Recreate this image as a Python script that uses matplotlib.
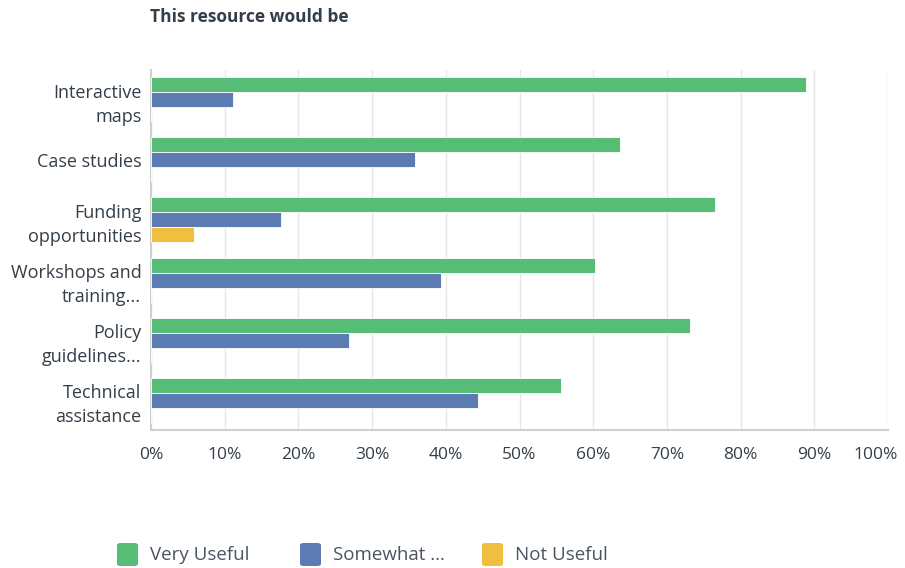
import matplotlib
matplotlib.use("Agg")
import matplotlib.pyplot as plt
from matplotlib.patches import FancyBboxPatch
from matplotlib.ticker import FuncFormatter
from matplotlib.transforms import ScaledTranslation
import numpy as np

plt.rcParams['font.family'] = ['Open Sans', 'DejaVu Sans']

categories = ["Interactive\nmaps", "Case studies", "Funding\nopportunities",
              "Workshops and\ntraining...", "Policy\nguidelines...", "Technical\nassistance"]
series_names = ["Very Useful", "Somewhat ...", "Not Useful"]
very_useful = [88.9, 63.6, 76.5, 60.3, 73.1, 55.6]
somewhat = [11.1, 35.8, 17.6, 39.3, 26.9, 44.4]
not_useful = [0, 0, 5.9, 0, 0, 0]
colors = ["#57bd76", "#5b7bb2", "#f0bf40"]
xticks = [0, 10, 20, 30, 40, 50, 60, 70, 80, 90, 100]

W, H = 905, 568
fig = plt.figure(figsize=(W / 100, H / 100), dpi=100)
ax = fig.add_axes([151 / W, 1 - 430 / H, (888 - 151) / W, 360 / H])

y = np.arange(len(categories))
bh = 0.25
for i, (vals, c) in enumerate(zip([very_useful, somewhat, not_useful], colors)):
    ax.barh(y + (i - 1) * bh, vals, height=bh, color=c, edgecolor='white',
            linewidth=0.6, zorder=3, label=series_names[i])

ax.set_ylim(len(categories) - 0.5, -0.5)
ax.set_xlim(0, 100)
ax.set_yticks(y)
ax.set_yticklabels(categories, fontsize=13, color='#333e48', linespacing=1.45)
ax.set_xticks(xticks)
ax.xaxis.set_major_formatter(FuncFormatter(lambda v, p: f"{int(v)}%"))
ax.tick_params(axis='x', labelsize=12.5, colors='#333e48', length=0, pad=12)
ax.tick_params(axis='y', length=0, pad=7)
ax.grid(axis='x', color='#e6e6e6', linewidth=1, zorder=0)
for s in ['top', 'right']:
    ax.spines[s].set_visible(False)
for s in ['left', 'bottom']:
    ax.spines[s].set_color('#cfcfcf')
    ax.spines[s].set_linewidth(1.5)

# shift last tick label to keep it inside the figure
fig.canvas.draw()
last = ax.get_xticklabels()[-1]
last.set_transform(last.get_transform() + ScaledTranslation(-12 / 100, 0, fig.dpi_scale_trans))

fig.text(150 / W, 1 - 17 / H, "This resource would be", fontsize=12.5,
         fontweight='bold', color='#333e48', va='center', ha='left')

# legend
leg_x = [117, 300, 482]
for xx, name, c in zip(leg_x, series_names, colors):
    p = FancyBboxPatch((xx / W, 1 - 566 / H), 21 / W, 23 / H,
                       boxstyle="round,pad=0,rounding_size=0.004",
                       transform=fig.transFigure, facecolor=c, edgecolor='none')
    fig.patches.append(p)
    fig.text((xx + 33) / W, 1 - 555 / H, name, fontsize=13.5, color='#4a5560',
             va='center', ha='left')

fig.savefig("out.png", dpi=100)
